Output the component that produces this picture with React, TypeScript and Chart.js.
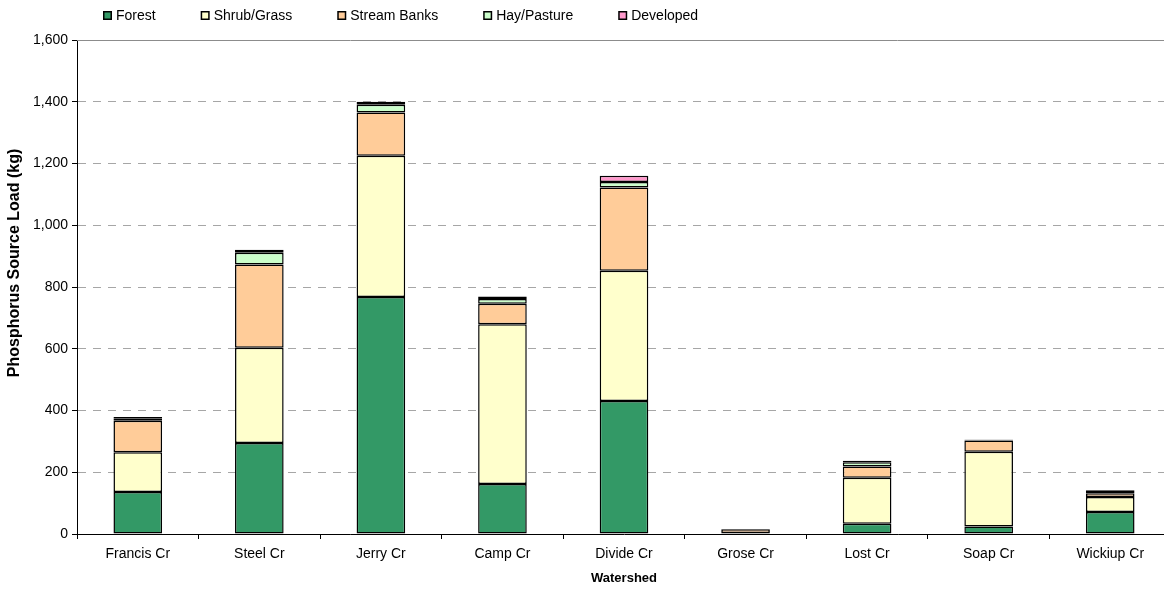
import React, { useEffect, useRef } from "react";
import { Chart, registerables } from "chart.js";

Chart.register(...registerables);

const categories = [
  "Francis Cr",
  "Steel Cr",
  "Jerry Cr",
  "Camp Cr",
  "Divide Cr",
  "Grose Cr",
  "Lost Cr",
  "Soap Cr",
  "Wickiup Cr",
];

const forest = [136, 295, 768, 162, 431, 2, 33, 24, 71];
const shrubGrass = [129, 308, 457, 517, 422, 1, 149, 242, 49];
const streamBanks = [102, 270, 140, 67, 269, 12, 37, 37, 12];
const hayPasture = [8, 38, 25, 15, 18, 0.5, 13, 2, 7];
const developed = [4, 10, 10, 8, 20, 0.3, 5, 1, 3];

const seriesNames = ["Forest", "Shrub/Grass", "Stream Banks", "Hay/Pasture", "Developed"];
const seriesColors = ["#339966", "#FFFFCC", "#FFCC99", "#CCFFCC", "#FF99CC"];
const seriesValues = [forest, shrubGrass, streamBanks, hayPasture, developed];

const yMin = 0;
const yMax = 1600;
const yStep = 200;

const xTitle = "Watershed";
const yTitle = "Phosphorus Source Load (kg)";

const FONT = "'Liberation Sans', Arial, Helvetica, sans-serif";

const legendPlugin = {
  id: "customLegend",
  afterDraw(chart: any) {
    const ctx = chart.ctx;
    ctx.save();
    ctx.font = `14px ${FONT}`;
    ctx.textBaseline = "middle";
    ctx.textAlign = "left";
    let x = 103;
    const y = 16;
    chart.data.datasets.forEach((ds: any) => {
      ctx.fillStyle = "#000";
      ctx.fillRect(x, y - 5, 9, 9);
      ctx.fillStyle = ds.backgroundColor;
      ctx.fillRect(x + 1.5, y - 3.5, 6, 6);
      ctx.fillStyle = "#000";
      const tx = x + 13;
      ctx.fillText(ds.label, tx, y);
      x = tx + ctx.measureText(ds.label).width + 45;
    });
    ctx.restore();
  },
};

const topBorderPlugin = {
  id: "topBorder",
  afterDraw(chart: any) {
    const { ctx, chartArea } = chart;
    ctx.save();
    ctx.strokeStyle = "#8c8c8c";
    ctx.lineWidth = 1;
    ctx.beginPath();
    ctx.moveTo(chartArea.left, chartArea.top + 0.5);
    ctx.lineTo(chartArea.right, chartArea.top + 0.5);
    ctx.stroke();
    ctx.restore();
  },
};

const yTitlePlugin = {
  id: "yTitle",
  afterDraw(chart: any) {
    const { ctx } = chart;
    ctx.save();
    ctx.translate(15, 263);
    ctx.rotate(-Math.PI / 2);
    ctx.font = `bold 16px ${FONT}`;
    ctx.fillStyle = "#000";
    ctx.textAlign = "center";
    ctx.textBaseline = "middle";
    ctx.fillText(yTitle, 0, 0);
    ctx.restore();
  },
};

export default function App() {
  const canvasRef = useRef<HTMLCanvasElement | null>(null);

  useEffect(() => {
    if (!canvasRef.current) return;
    const chart = new Chart(canvasRef.current, {
      type: "bar",
      data: {
        labels: categories,
        datasets: seriesNames.map((name, i) => ({
          label: name,
          data: seriesValues[i],
          backgroundColor: seriesColors[i],
          borderColor: "#000000",
          borderWidth: 1.5,
          borderSkipped: false,
          barPercentage: 0.4,
          categoryPercentage: 1,
        })),
      },
      options: {
        responsive: false,
        animation: false,
        devicePixelRatio: 1,
        layout: { padding: { top: 40, right: 9, left: 0, bottom: 0 } },
        plugins: {
          legend: { display: false },
          tooltip: { enabled: false },
        },
        scales: {
          x: {
            stacked: true,
            offset: true,
            grid: {
              offset: true,
              drawOnChartArea: false,
              drawTicks: true,
              tickLength: 5,
              tickColor: "#000",
              color: "#000",
            },
            border: { display: true, color: "#000", width: 1 },
            ticks: {
              color: "#000",
              font: { family: FONT, size: 14 },
              padding: 7,
              maxRotation: 0,
              autoSkip: false,
            },
            title: {
              display: true,
              text: xTitle,
              color: "#000",
              font: { family: FONT, size: 13, weight: "bold" },
              padding: { top: 4, bottom: 6 },
            },
            afterFit: (scale: any) => {
              scale.height = 58;
            },
          },
          y: {
            stacked: true,
            min: yMin,
            max: yMax,
            grid: {
              drawOnChartArea: true,
              drawTicks: true,
              tickLength: 5,
              tickColor: "#000",
              color: (c: any) =>
                c.tick && (c.tick.value === yMax || c.tick.value === yMin) ? "rgba(0,0,0,0)" : "#a6a6a6",
              lineWidth: 1,
            },
            border: { display: true, color: "#000", width: 1, dash: [8, 7] },
            ticks: {
              stepSize: yStep,
              color: "#000",
              font: { family: FONT, size: 14 },
              padding: 4,
              callback: (v: any) => Number(v).toLocaleString("en-US"),
            },
            title: { display: false },
            afterFit: (scale: any) => {
              scale.width = 77;
            },
          },
        },
      },
      plugins: [legendPlugin, topBorderPlugin, yTitlePlugin],
    });
    return () => chart.destroy();
  }, []);

  return (
    <div
      style={{
        position: "fixed",
        left: 0,
        top: 0,
        width: 1164,
        height: 592,
        overflow: "hidden",
        background: "#fff",
      }}
    >
      <canvas ref={canvasRef} width={1180} height={592} style={{ display: "block" }} />
    </div>
  );
}
